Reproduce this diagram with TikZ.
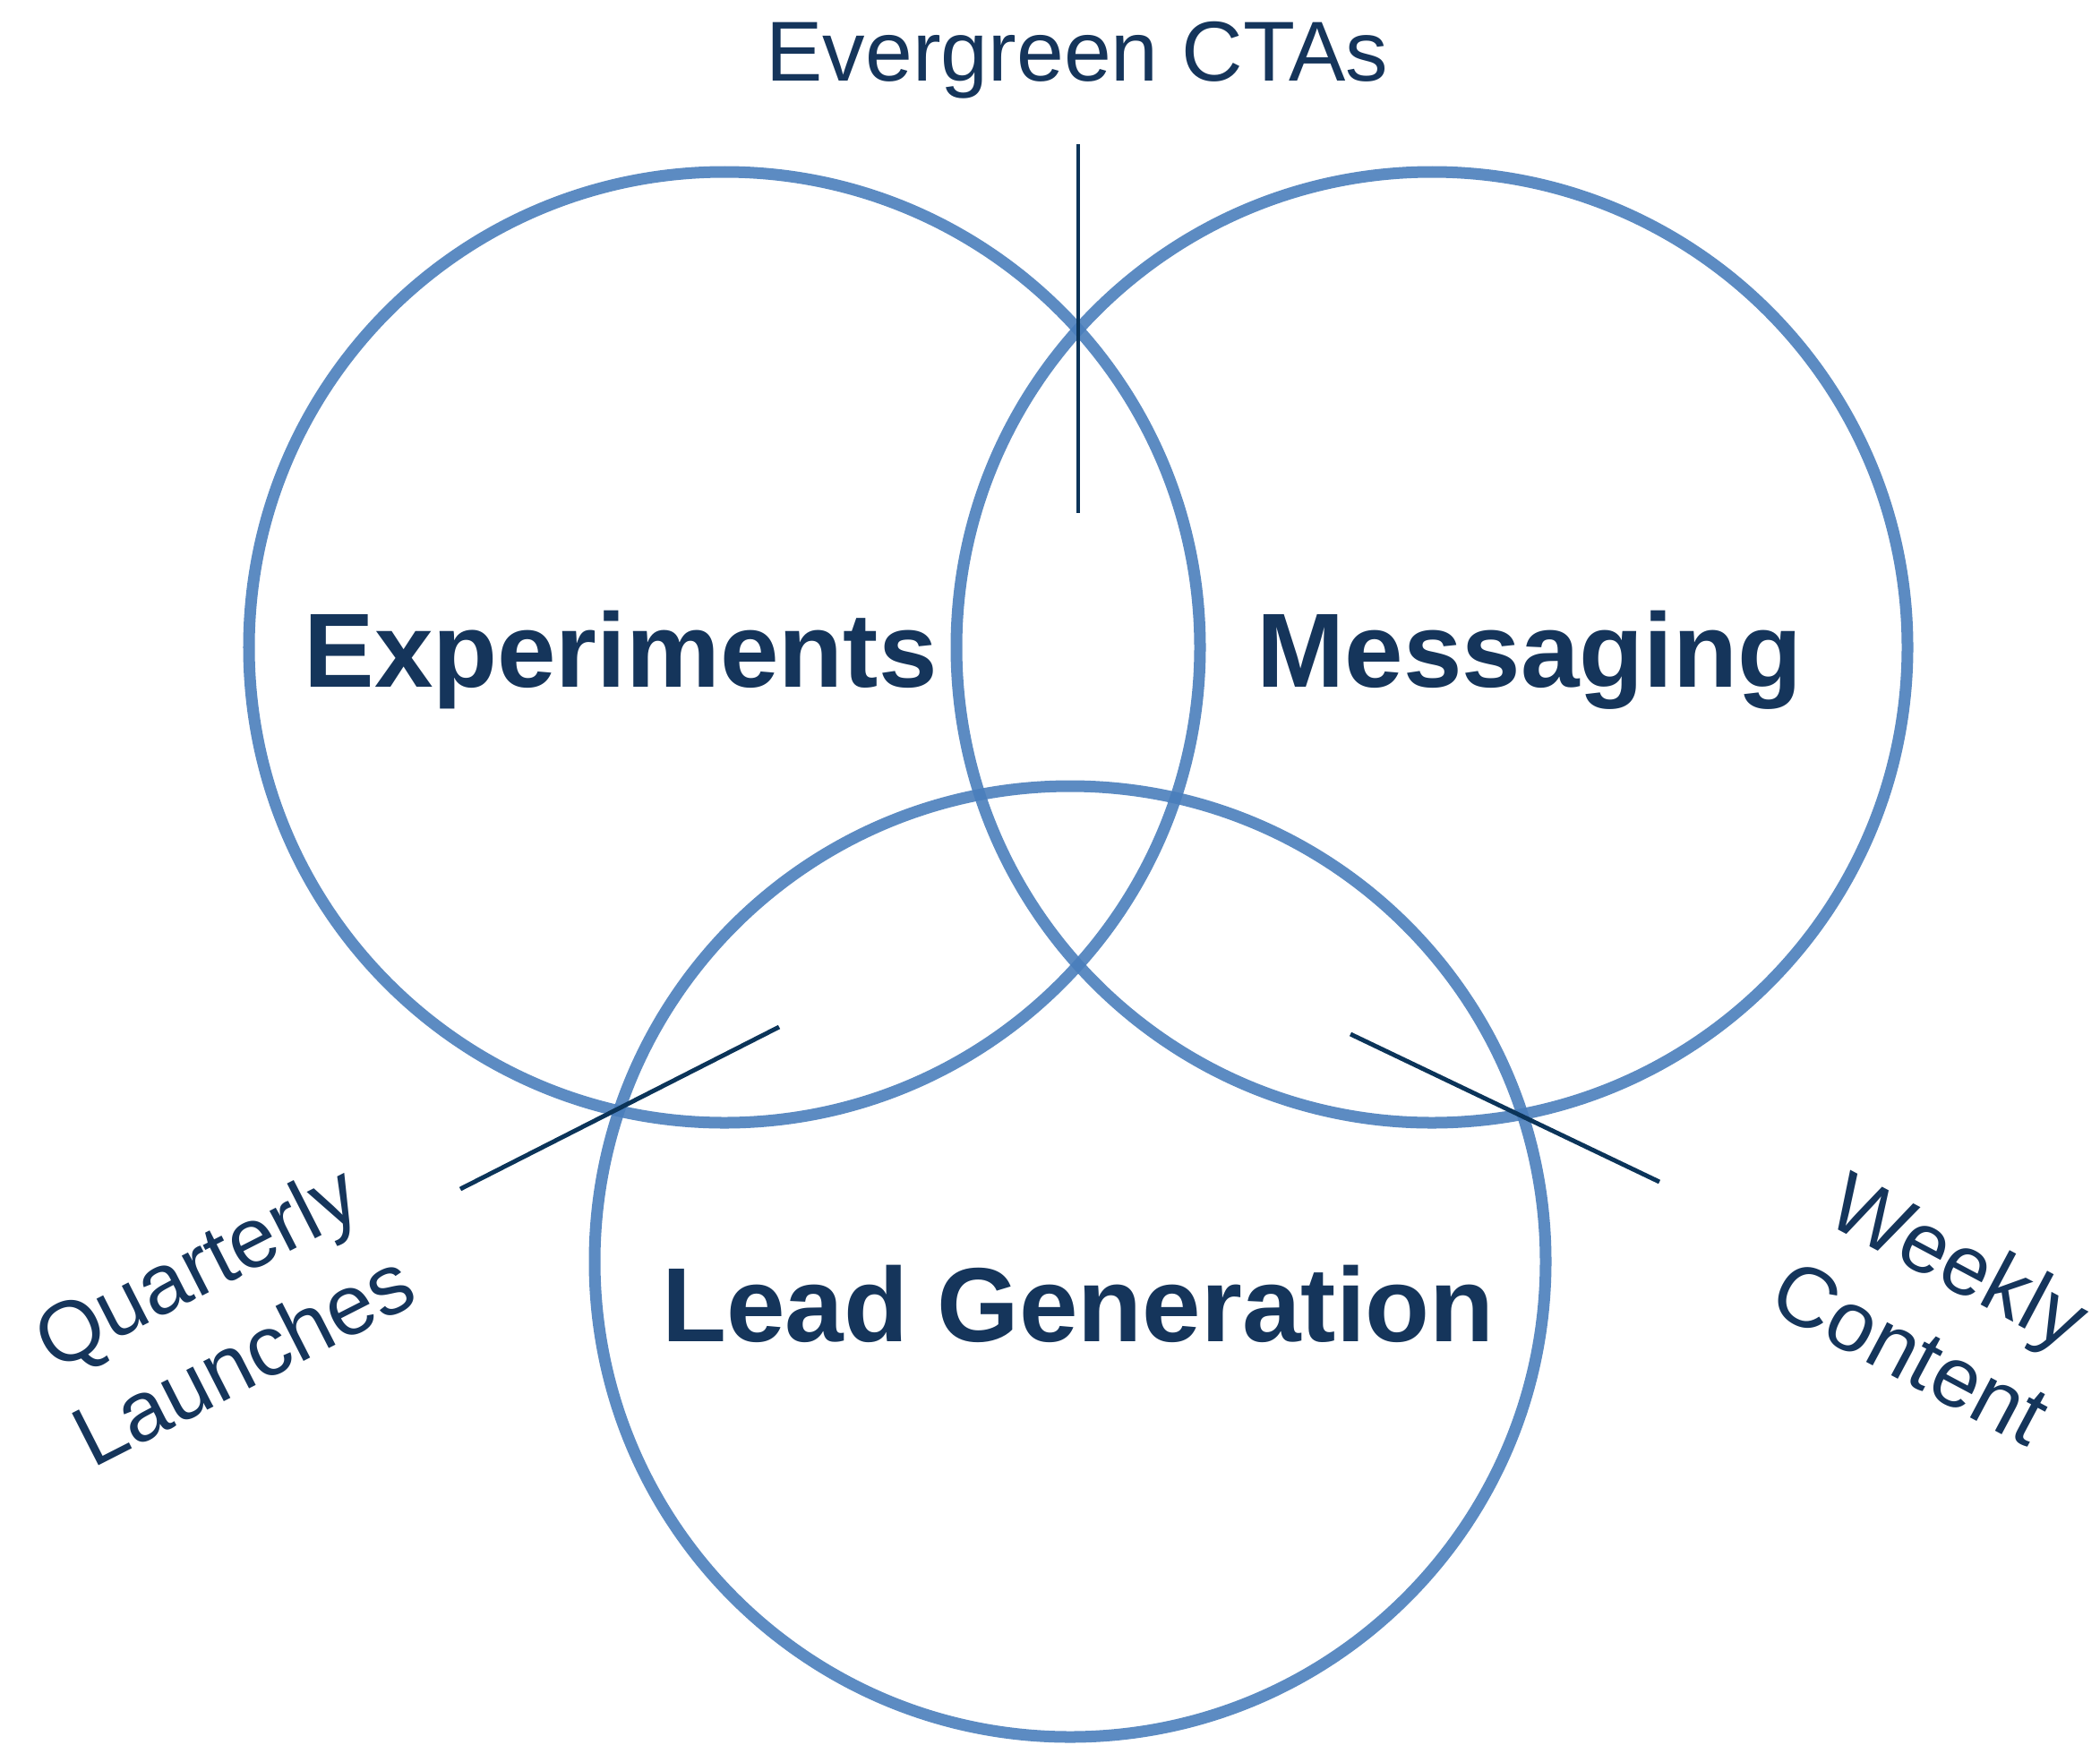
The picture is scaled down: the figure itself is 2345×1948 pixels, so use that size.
\documentclass[tikz,border=0pt]{standalone}
\usepackage{fontspec}
\setmainfont{Liberation Sans}
\usepackage{xcolor}
\definecolor{ringblue}{HTML}{4A7EBB}
\definecolor{navy}{HTML}{15355B}
\definecolor{linenavy}{HTML}{0B3459}

\begin{document}
\begin{tikzpicture}[x=0.01cm,y=-0.01cm,
  ring/.style={draw=ringblue,draw opacity=0.9,line width=3.7pt},
  tick/.style={draw=linenavy,line width=1.4pt},
  big/.style={text=navy,font=\fontsize{33.5}{40}\selectfont\bfseries,anchor=base,inner sep=0pt},
  small/.style={text=navy,font=\fontsize{27}{33}\selectfont,align=center,inner sep=0pt}]
  \useasboundingbox (0,0) rectangle (2345,1948);

  % the three sets
  \draw[ring] (809,723) circle[radius=531];
  \draw[ring] (1599,723) circle[radius=531];
  \draw[ring] (1195,1409) circle[radius=531];

  \node[big] (exp) at (693,767) {Experiments};
  \node[big] (msg) at (1708,767) {Messaging};
  \node[big] (lead) at (1204,1498) {Lead Generation};

  % labels of the overlaps
  \node[small,anchor=base] (cta) at (1203,90) {Evergreen CTAs};
  \node[small,rotate=27] (quart) at (245,1465) {Quarterly\\Launches};
  \node[small,rotate=-28] (week) at (2161,1458) {Weekly\\Content};

  \coordinate (ctaA) at (1204,161);
  \coordinate (ctaB) at (1204,573);
  \coordinate (quartA) at (870,1147);
  \coordinate (quartB) at (514,1328);
  \coordinate (weekA) at (1508,1155);
  \coordinate (weekB) at (1853,1320);
  \draw[tick] (ctaA) -- (ctaB);
  \draw[tick] (quartA) -- (quartB);
  \draw[tick] (weekA) -- (weekB);
\end{tikzpicture}
\end{document}
